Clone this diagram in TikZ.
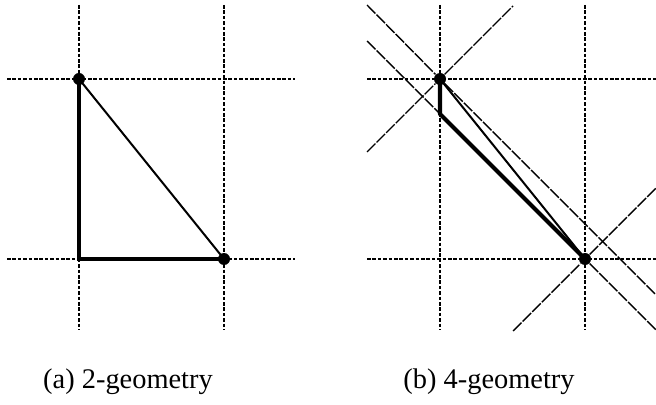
\documentclass[tikz,border=0pt]{standalone}
\usepackage{fontspec}
\setmainfont{Liberation Serif}
\usepackage{tikz}
\tikzset{
  griglia/.style={line width=1.1pt, dash pattern=on 1.8pt off 0.9pt},
  diag/.style={line width=0.7pt, dash pattern=on 6pt off 0.8pt},
  punto/.style={circle, fill=black, inner sep=0pt, minimum size=6pt},
  lato/.style={line width=2.1pt},
  corda/.style={line width=1pt}
}
\begin{document}
\begin{tikzpicture}[x=0.5pt,y=-0.5pt]
        \useasboundingbox (0,0) rectangle (656,405);
        % (a) griglia
        \foreach \y in {79,259} \draw[griglia] (7,\y)--(295,\y);
        \foreach \x in {79,224} \draw[griglia] (\x,5)--(\x,330);
        \node[punto] (a1) at (79,79) {};
        \node[punto] (a2) at (224,259) {};
        \coordinate (ak) at (79,259);
        \draw[lato, line join=miter] (a1.center) -- (ak) -- (a2.center);
        \draw[corda] (a1.center) -- (a2.center);
        \node[anchor=base, font=\fontsize{14.2}{17}\selectfont] (capa) at (128,388) {(a) 2-geometry};
        % (b) griglia
        \foreach \y in {79,259} \draw[griglia] (367,\y)--(656,\y);
        \foreach \x in {440,585} \draw[griglia] (\x,5)--(\x,330);
        \node[punto] (b1) at (440,79) {};
        \node[punto] (b2) at (585,259) {};
        \coordinate (bk) at (440,114);
        % diagonali a 45 gradi
        \draw[diag] (367,5) -- (b1) -- (656,295);
        \draw[diag] (367,152) -- (b1) -- (513,6);
        \draw[diag] (367,41) -- (b2) -- (656,330);
        \draw[diag] (513,331) -- (b2) -- (656,188);
        \draw[lato, line join=round] (b1.center) -- (bk) -- (b2.center);
        \draw[corda] (b1.center) -- (b2.center);
        \node[anchor=base, font=\fontsize{14.2}{17}\selectfont] (capb) at (489,388) {(b) 4-geometry};
    \end{tikzpicture}
\end{document}
